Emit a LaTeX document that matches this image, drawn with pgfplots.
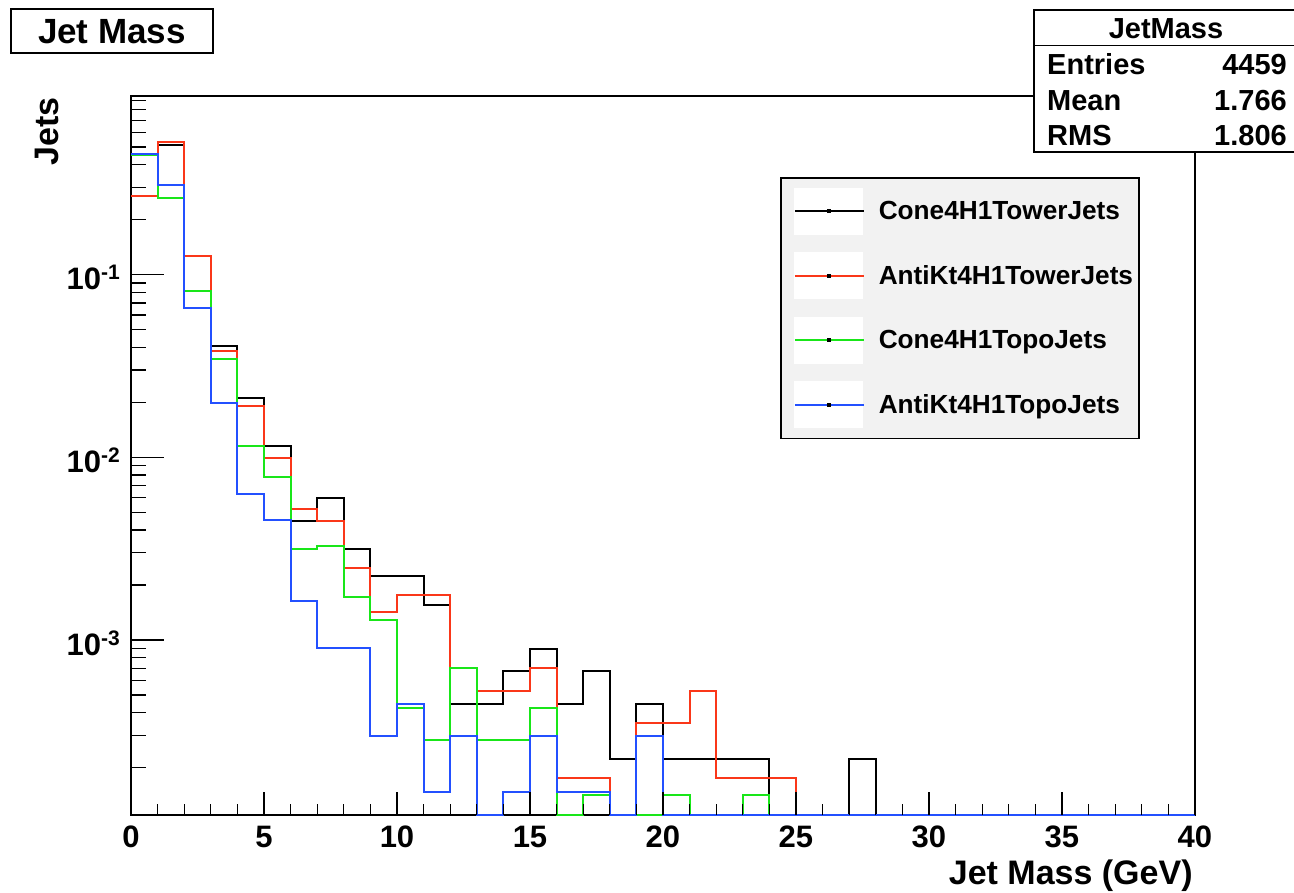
\documentclass[border=0pt]{standalone}
\usepackage{pgfplots}
\usepackage{pgfplotstable}
\pgfplotsset{compat=1.18}
\usepackage{fontspec}
\setmainfont{Liberation Sans}
\definecolor{rootred}{RGB}{250,55,25}
\definecolor{rootgreen}{RGB}{25,230,25}
\definecolor{rootblue}{RGB}{35,80,255}
\definecolor{legendgray}{RGB}{242,242,242}

% bin left edge, normalised contents (empty bins drawn at the axis floor 1.1e-4)
\pgfplotstableread{
x  black     red       green     blue
0  0.27      0.268     0.45      0.46
1  0.51      0.53      0.262     0.308
2  0.081     0.127     0.081     0.066
3  0.0409    0.0381    0.0347    0.0199
4  0.0210    0.0190    0.01153   0.00628
5  0.0115    0.00996   0.0078    0.00453
6  0.00449   0.0052    0.00314   0.00164
7  0.00597   0.00449   0.00327   0.0009
8  0.00314   0.00247   0.00172   0.0009
9  0.00225   0.00142   0.00129   0.000298
10 0.00225   0.00176   0.000423  0.000445
11 0.00155   0.00176   0.000282  0.000147
12 0.000445  0.000703  0.000703  0.000298
13 0.000445  0.000528  0.000282  0.00011
14 0.000675  0.000528  0.000282  0.000147
15 0.000893  0.000703  0.000423  0.000298
16 0.000445  0.000175  0.00011   0.000147
17 0.000675  0.000175  0.000141  0.000147
18 0.000224  0.00011   0.00011   0.00011
19 0.000445  0.000351  0.00011   0.000298
20 0.000224  0.000351  0.000141  0.00011
21 0.000224  0.000528  0.00011   0.00011
22 0.000224  0.000175  0.00011   0.00011
23 0.000224  0.000175  0.000141  0.00011
24 0.00011   0.000175  0.00011   0.00011
25 0.00011   0.00011   0.00011   0.00011
26 0.00011   0.00011   0.00011   0.00011
27 0.000224  0.00011   0.00011   0.00011
28 0.00011   0.00011   0.00011   0.00011
29 0.00011   0.00011   0.00011   0.00011
30 0.00011   0.00011   0.00011   0.00011
31 0.00011   0.00011   0.00011   0.00011
32 0.00011   0.00011   0.00011   0.00011
33 0.00011   0.00011   0.00011   0.00011
34 0.00011   0.00011   0.00011   0.00011
35 0.00011   0.00011   0.00011   0.00011
36 0.00011   0.00011   0.00011   0.00011
37 0.00011   0.00011   0.00011   0.00011
38 0.00011   0.00011   0.00011   0.00011
39 0.00011   0.00011   0.00011   0.00011
40 0.00011   0.00011   0.00011   0.00011
}\hist

\begin{document}
\begin{tikzpicture}[x=1pt,y=1pt]
\useasboundingbox (0,0) rectangle (1294,893);

% main axis: data, frame, y ticks
\begin{axis}[
  at={(131pt,78pt)}, anchor=south west,
  scale only axis, width=1064pt, height=719pt,
  xmin=0, xmax=40, ymode=log, ymin=1.1e-4, ymax=0.95,
  clip=false,
  axis line style={black, line width=1.5pt},
  tick pos=left, tick align=inside,
  every tick/.style={black, line width=1.3pt},
  major tick length=33pt, minor tick length=15pt,
  xtick=\empty,
  ytick={1e-3,1e-2,1e-1},
  yticklabels={%
    {\textbf{10}\raisebox{10pt}{\fontsize{21}{21}\selectfont\bfseries -3}},
    {\textbf{10}\raisebox{10pt}{\fontsize{21}{21}\selectfont\bfseries -2}},
    {\textbf{10}\raisebox{10pt}{\fontsize{21}{21}\selectfont\bfseries -1}}},
  minor ytick={2e-4,3e-4,4e-4,5e-4,6e-4,7e-4,8e-4,9e-4,
               2e-3,3e-3,4e-3,5e-3,6e-3,7e-3,8e-3,9e-3,
               2e-2,3e-2,4e-2,5e-2,6e-2,7e-2,8e-2,9e-2,
               0.2,0.3,0.4,0.5,0.6,0.7,0.8,0.9},
  yticklabel style={font=\fontsize{31}{31}\selectfont\bfseries, inner sep=0pt,
                    anchor=east, xshift=-11pt, yshift=-3pt},
  ylabel={Jets},
  every axis y label/.style={at={(axis description cs:-0.0902,0.9986)},
     rotate=90, anchor=north east, inner sep=0pt,
     font=\fontsize{34}{34}\selectfont\bfseries},
  xlabel={Jet Mass (GeV)},
  every axis x label/.style={at={(axis description cs:0.998,-0.096)},
     anchor=base east, inner sep=0pt,
     font=\fontsize{34}{34}\selectfont\bfseries},
  legend style={at={(axis description cs:0.6100,0.8873)}, anchor=north west,
     draw=black, line width=1.5pt, fill=legendgray,
     inner xsep=6pt, inner ysep=10pt,
     row sep=17.5pt, column sep=14pt,
     font=\fontsize{26.2}{26.2}\selectfont\bfseries,
     cells={anchor=west}, nodes={inner sep=0pt}},
  legend image code/.code={%
     \path (0pt,0pt);
     \fill[white] (7pt,-22.5pt) rectangle (74pt,22.5pt);
     \draw[#1] (7pt,0pt) -- (76pt,0pt);
     \fill[black] (40.5pt,-1pt) rectangle (42.5pt,1pt);},
]
\addplot[const plot, black, line width=2pt] table[x=x, y=black] {\hist};
\addlegendentry{Cone4H1TowerJets}
\addplot[const plot, rootred, line width=2pt] table[x=x, y=red] {\hist};
\addlegendentry{AntiKt4H1TowerJets}
\addplot[const plot, rootgreen, line width=2pt] table[x=x, y=green] {\hist};
\addlegendentry{Cone4H1TopoJets}
\addplot[const plot, rootblue, line width=2pt] table[x=x, y=blue] {\hist};
\addlegendentry{AntiKt4H1TopoJets}
\end{axis}

% second axis on the same frame: x ticks only
\begin{axis}[
  at={(131pt,78pt)}, anchor=south west,
  scale only axis, width=1064pt, height=719pt,
  xmin=0, xmax=40, ymin=0, ymax=1,
  axis line style={draw=none},
  tick pos=left, tick align=inside,
  every tick/.style={black, line width=1.3pt},
  major tick length=23pt, minor tick length=11pt,
  ytick=\empty,
  xtick={0,5,...,40}, minor x tick num=4,
  xticklabels={0,5,10,15,20,25,30,35,40},
  xticklabel style={font=\fontsize{31}{31}\selectfont\bfseries, inner sep=0pt,
                    anchor=north, yshift=-11pt},
]
\end{axis}

% title box
\draw[line width=1.5pt, fill=white] (11,884) rectangle (213,840);
\node[font=\fontsize{35}{35}\selectfont\bfseries, anchor=base] at (112,849.5) {Jet Mass};

% statistics box
\draw[line width=1.5pt, fill=white] (1034,883) rectangle (1300,741);
\draw[line width=1.5pt] (1034,847.3) -- (1300,847.3);
\begin{scope}[every node/.style={font=\fontsize{29}{29}\selectfont\bfseries, inner sep=0pt}]
\node[anchor=base] at (1166,854.5) {JetMass};
\node[anchor=base west] at (1047,818.5) {Entries};
\node[anchor=base east] at (1287,818.5) {4459};
\node[anchor=base west] at (1047,782.5) {Mean};
\node[anchor=base east] at (1287,782.5) {1.766};
\node[anchor=base west] at (1047,747) {RMS};
\node[anchor=base east] at (1287,747) {1.806};
\end{scope}
\end{tikzpicture}
\end{document}
